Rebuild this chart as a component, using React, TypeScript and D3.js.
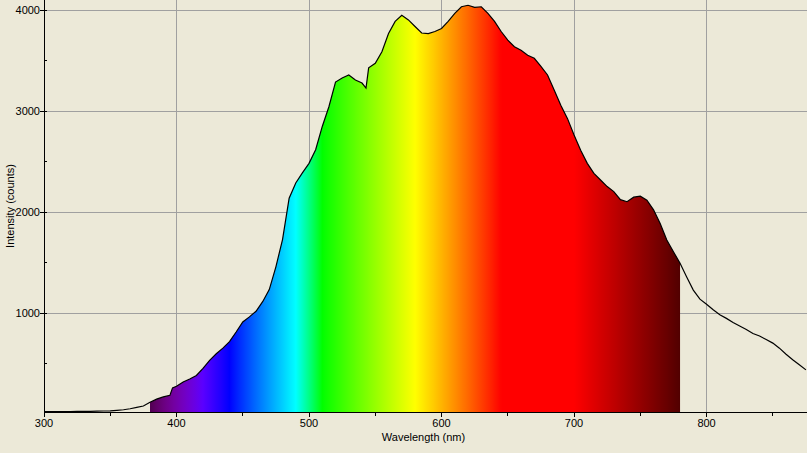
import React, { useRef, useEffect } from 'react';
import * as d3 from 'd3';

// wavelength (nm) and intensity (counts)
const wavelengths = [
  300, 305, 310, 315, 320, 325, 330, 335, 340, 345, 350, 355, 360, 365, 370, 375,
  380, 385, 390, 395, 397, 400, 405, 410, 415, 420, 425, 430, 435, 440, 445, 450,
  455, 460, 465, 470, 475, 480, 485, 490, 495, 500, 505, 510, 515, 520, 525, 530,
  535, 540, 543, 545, 550, 555, 560, 565, 570, 575, 580, 585, 590, 595, 600, 605,
  610, 615, 620, 625, 630, 635, 640, 645, 650, 655, 660, 665, 670, 675, 680, 685,
  690, 695, 700, 705, 710, 715, 720, 725, 730, 735, 740, 745, 750, 755, 760, 765,
  770, 775, 780, 785, 790, 795, 800, 805, 810, 815, 820, 825, 830, 835, 840, 845,
  850, 855, 860, 865, 870, 875,
];
const intensities = [
  28, 27, 28, 27, 28, 29, 30, 30, 31, 33, 35, 40, 45, 55, 68, 82,
  120, 150, 172, 188, 262, 278, 320, 350, 385, 455, 535, 600, 655, 720, 815, 915,
  965, 1020, 1115, 1235, 1460, 1730, 2140, 2290, 2390, 2485, 2620, 2850, 3045, 3290, 3330, 3360,
  3310, 3280, 3230, 3430, 3475, 3590, 3770, 3890, 3950, 3905, 3840, 3775, 3770, 3790, 3820, 3890,
  3970, 4035, 4050, 4030, 4035, 3970, 3890, 3790, 3705, 3640, 3605, 3555, 3525, 3445, 3360, 3210,
  3060, 2930, 2765, 2615, 2485, 2385, 2320, 2255, 2205, 2125, 2105, 2150, 2160, 2120, 2025, 1890,
  1725, 1610, 1495, 1360, 1230, 1140, 1090, 1035, 985, 950, 910, 875, 840, 800, 775, 740,
  705, 655, 595, 540, 490, 440,
];

const xTicks = [300, 400, 500, 600, 700, 800];
const xMinorTicks = [350, 450, 550, 650, 750, 850];
const yTicks = [1000, 2000, 3000, 4000];
const yMinorTicks = [500, 1500, 2500, 3500];
const visibleRange = [380, 780];

// classic wavelength -> rgb approximation
const spectrumColor = (w: number): string => {
  let r = 0, g = 0, b = 0;
  if (w < 440) { r = -(w - 440) / 60; b = 1; }
  else if (w < 490) { g = (w - 440) / 50; b = 1; }
  else if (w < 510) { g = 1; b = -(w - 510) / 20; }
  else if (w < 580) { r = (w - 510) / 70; g = 1; }
  else if (w < 645) { r = 1; g = -(w - 645) / 65; }
  else { r = 1; }
  let f = 1;
  if (w < 420) f = 0.3 + (0.7 * (w - 380)) / 40;
  else if (w > 700) f = 0.3 + (0.7 * (780 - w)) / 80;
  const c = (v: number) => Math.round(255 * Math.pow(v * f, 0.95));
  return `rgb(${c(r)},${c(g)},${c(b)})`;
};

export default function App() {
  const ref = useRef<SVGSVGElement>(null);

  useEffect(() => {
    document.body.style.margin = '0';
    const width = 807;
    const height = 453;
    const margin = { top: 0, right: 0, bottom: 41, left: 44 };
    const bottom = height - margin.bottom;
    const font = '"Liberation Sans", Arial, sans-serif';

    const svg = d3.select(ref.current);
    svg.selectAll('*').remove();

    const x = d3.scaleLinear().domain([300, 875.8]).range([margin.left, width - margin.right]);
    const y = d3.scaleLinear().domain([23, 4102]).range([bottom, margin.top]);

    const data = wavelengths.map((w, i) => ({ w, v: intensities[i] }));

    svg.append('rect').attr('width', width).attr('height', height).attr('fill', '#ECE9D8');

    const grad = svg
      .append('defs')
      .append('linearGradient')
      .attr('id', 'spectrum')
      .attr('gradientUnits', 'userSpaceOnUse')
      .attr('x1', x(visibleRange[0]))
      .attr('x2', x(visibleRange[1]))
      .attr('y1', 0)
      .attr('y2', 0);
    d3.range(visibleRange[0], visibleRange[1] + 1, 2).forEach((w) => {
      grad
        .append('stop')
        .attr('offset', (w - visibleRange[0]) / (visibleRange[1] - visibleRange[0]))
        .attr('stop-color', spectrumColor(w));
    });

    // grid
    const grid = svg.append('g').attr('stroke', '#A0A0A0').attr('shape-rendering', 'crispEdges');
    xTicks.slice(1).forEach((t) => {
      grid.append('line').attr('x1', x(t)).attr('x2', x(t)).attr('y1', 0).attr('y2', bottom);
    });
    yTicks.forEach((t) => {
      grid.append('line').attr('x1', margin.left).attr('x2', width).attr('y1', y(t)).attr('y2', y(t));
    });

    // filled visible band
    const inBand = data.filter((d) => d.w >= visibleRange[0] && d.w <= visibleRange[1]);
    const area = d3
      .area<{ w: number; v: number }>()
      .x((d) => x(d.w))
      .y0(bottom)
      .y1((d) => y(d.v));
    svg.append('path').datum(inBand).attr('d', area).attr('fill', 'url(#spectrum)');

    const line = d3
      .line<{ w: number; v: number }>()
      .x((d) => x(d.w))
      .y((d) => y(d.v));
    svg
      .append('path')
      .datum(data)
      .attr('d', line)
      .attr('fill', 'none')
      .attr('stroke', '#000')
      .attr('stroke-width', 1.2);

    // axes
    const axes = svg.append('g').attr('stroke', '#000').attr('shape-rendering', 'crispEdges');
    axes.append('line').attr('x1', margin.left).attr('x2', margin.left).attr('y1', 0).attr('y2', bottom);
    axes.append('line').attr('x1', margin.left).attr('x2', width).attr('y1', bottom).attr('y2', bottom);
    xTicks.forEach((t) => {
      axes.append('line').attr('x1', x(t)).attr('x2', x(t)).attr('y1', bottom).attr('y2', bottom + 5);
    });
    xMinorTicks.forEach((t) => {
      axes.append('line').attr('x1', x(t)).attr('x2', x(t)).attr('y1', bottom).attr('y2', bottom + 4);
    });
    yTicks.forEach((t) => {
      axes.append('line').attr('x1', margin.left - 4).attr('x2', margin.left + 3).attr('y1', y(t)).attr('y2', y(t));
    });
    yMinorTicks.forEach((t) => {
      axes.append('line').attr('x1', margin.left).attr('x2', margin.left + 3).attr('y1', y(t)).attr('y2', y(t));
    });

    const labels = svg.append('g').attr('font-family', font).attr('font-size', 11).attr('fill', '#000');
    xTicks.forEach((t) => {
      labels.append('text').attr('x', x(t)).attr('y', bottom + 15).attr('text-anchor', 'middle').text(t);
    });
    yTicks.forEach((t) => {
      labels
        .append('text')
        .attr('x', margin.left - 4)
        .attr('y', y(t) + 4)
        .attr('text-anchor', 'end')
        .text(t);
    });
    labels
      .append('text')
      .attr('x', (margin.left + width) / 2 - 2)
      .attr('y', 441)
      .attr('text-anchor', 'middle')
      .text('Wavelength (nm)');
    labels
      .append('text')
      .attr('transform', `translate(14, ${bottom / 2}) rotate(-90)`)
      .attr('text-anchor', 'middle')
      .text('Intensity (counts)');
  }, []);

  return <svg ref={ref} width={807} height={453} style={{ display: 'block' }} />;
}
